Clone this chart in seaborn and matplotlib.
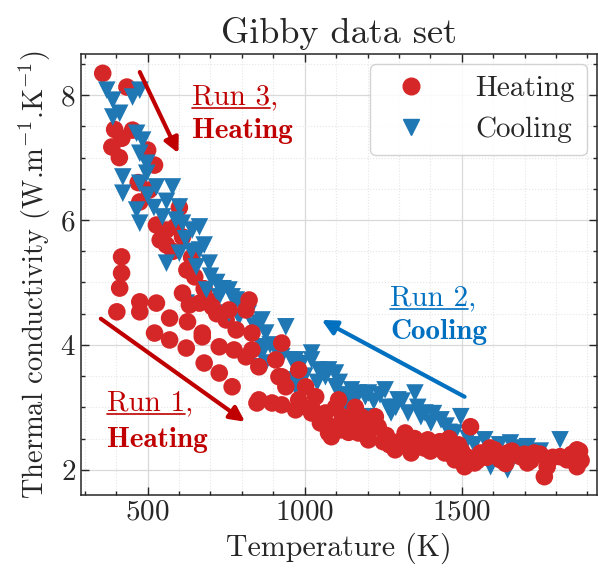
import numpy as np
import pandas as pd
import matplotlib
matplotlib.use('Agg')
import matplotlib.pyplot as plt
import seaborn as sns
from matplotlib.lines import Line2D

# Run 3 (heating, upper branch at low T)
run3_T = [357, 434, 386, 418, 452, 500, 522, 475, 528, 560, 601, 611, 395, 410, 470,
          505, 540, 580, 625, 650, 680, 560, 590, 640, 700, 720, 750]
run3_k = [8.35, 8.13, 7.17, 7.31, 7.44, 7.12, 6.88, 6.29, 5.92, 5.84, 6.20, 5.73, 7.45, 7.00, 6.60,
          6.48, 5.68, 5.50, 5.20, 5.09, 4.90, 5.60, 5.90, 5.40, 4.70, 4.50, 4.40]

# Run 2 (cooling)
run2_T = [370, 389, 411, 452, 475, 389, 465, 475, 421, 421, 475, 465, 475, 528, 579, 601, 547,
          611, 642, 497, 497, 484,
          560, 623, 687, 601, 655, 728, 769, 759, 854, 864, 876, 940, 971, 1022, 971,
          665, 665, 696, 759, 782, 791, 864, 876, 864, 864, 927, 959, 1022, 971, 1044, 1066,
          1098, 1149, 1130, 1193, 1256, 1275,
          1076, 1098, 1139, 1171, 1203, 1266, 1351, 1329, 1383, 1434, 1478, 1497, 1478, 1573,
          1592, 1655, 1646, 1709, 1813, 1297, 1402, 1203,
          500, 520, 560, 590, 620, 640, 680, 700, 720, 740, 800, 820, 840, 890, 910, 990, 1000,
          1040, 1110, 1120, 1160, 1220, 1240, 1290, 1310, 1360, 1370, 1410, 1450, 1460, 1520,
          1540, 1600, 1620, 1680, 1700, 1750]
run2_k = [8.08, 7.92, 7.71, 7.97, 8.08, 7.65, 7.39, 7.07, 6.69, 6.43, 6.59, 6.16, 5.95, 6.53, 6.53, 6.21, 6.05,
          5.95, 5.84, 6.75, 6.91, 7.28,
          5.31, 4.67, 4.88, 5.47, 5.25, 4.77, 4.77, 4.51, 4.35, 3.97, 3.71, 4.29, 3.76, 3.76, 3.44,
          5.89, 5.52, 5.31, 4.88, 4.72, 4.45, 4.40, 4.19, 3.87, 3.65, 3.81, 3.76, 3.87, 3.33, 3.60, 3.49,
          3.33, 3.28, 3.07, 3.17, 3.28, 2.91,
          3.60, 3.55, 3.17, 3.23, 3.23, 3.00, 3.23, 2.91, 2.91, 2.80, 2.37, 2.85, 2.59, 2.48,
          2.05, 2.43, 2.00, 2.37, 2.48, 3.12, 2.75, 2.85,
          6.40, 6.20, 6.30, 6.00, 5.70, 5.50, 5.60, 5.10, 5.00, 4.90, 4.60, 4.50, 4.30, 4.00, 3.90, 3.70, 3.50,
          3.40, 3.40, 3.20, 3.10, 3.10, 3.20, 3.00, 3.10, 3.00, 2.85, 2.90, 2.70, 2.60, 2.50,
          2.40, 2.30, 2.40, 2.35, 2.30, 2.30]

# Run 1 (heating, lower branch and high T)
run1_T = [417, 417, 411, 402, 475, 475, 528, 570, 522, 570, 627, 623, 674, 680, 728, 769, 728,
          775, 813, 848, 896, 927, 971, 1022, 1076, 611, 633, 665, 854, 918, 940, 832, 782,
          674, 706, 759, 813, 832, 854, 927, 908, 927, 981, 1003, 1022, 1066, 1085, 981,
          1035, 1108, 1161, 1161, 1225, 1085, 823,
          1098, 1117, 1171, 1180, 1234, 1288, 1320, 1361, 1392, 1446, 1478, 1509, 1528, 1560,
          1604, 1646, 1687, 1731, 1772, 1763, 1813, 1867, 1867, 1835, 1709, 1623, 1541, 1339,
          1203, 1139, 1250, 1300, 1420, 1470, 1490,
          1050, 1120, 1140, 1190, 1210, 1260, 1270, 1310, 1350, 1380, 1400, 1430, 1460, 1500,
          1520, 1550, 1580, 1590, 1640, 1660, 1700, 1720, 1750, 1790, 1850, 1880, 1875]
run1_k = [5.41, 5.15, 4.91, 4.53, 4.69, 4.53, 4.67, 4.43, 4.19, 4.08, 4.37, 3.95, 4.13, 3.71, 3.55, 3.33, 3.97,
          3.92, 3.81, 3.07, 3.07, 3.04, 2.96, 2.91, 2.59, 4.83, 4.64, 4.67, 3.65, 3.49, 3.33, 3.92, 4.24,
          4.19, 4.61, 4.56, 4.56, 4.19, 3.12, 4.03, 3.76, 3.49, 3.12, 3.33, 3.00, 2.91, 2.69, 3.60,
          3.17, 3.12, 3.00, 2.69, 2.85, 2.53, 4.72,
          3.00, 2.64, 2.59, 2.85, 2.69, 2.32, 2.59, 2.37, 2.48, 2.27, 2.16, 2.05, 2.69, 2.27,
          2.32, 2.27, 2.21, 2.27, 2.05, 1.89, 2.21, 2.32, 2.05, 2.16, 2.11, 2.16, 2.11, 2.27,
          2.48, 2.80, 2.45, 2.45, 2.40, 2.30, 2.40,
          2.75, 2.85, 2.60, 2.70, 2.65, 2.55, 2.40, 2.45, 2.50, 2.35, 2.30, 2.45, 2.50, 2.30,
          2.20, 2.15, 2.20, 2.35, 2.10, 2.30, 2.25, 2.15, 2.25, 2.20, 2.25, 2.15, 2.30]

heat_color = '#d62728'
cool_color = '#1f77b4'
note_red = '#c00000'
note_blue = '#0070c0'

df = pd.concat([
    pd.DataFrame({'T': run3_T, 'k': run3_k, 'Process': 'Heating'}),
    pd.DataFrame({'T': run2_T, 'k': run2_k, 'Process': 'Cooling'}),
    pd.DataFrame({'T': run1_T, 'k': run1_k, 'Process': 'Heating'}),
], ignore_index=True)

sns.set_style('ticks')
plt.rcParams['font.family'] = ['cmr10']
plt.rcParams['mathtext.fontset'] = 'cm'
plt.rcParams['axes.formatter.use_mathtext'] = True
plt.rcParams['axes.unicode_minus'] = False

fig = plt.figure(figsize=(5.98, 5.74), dpi=100)
ax = fig.add_axes([0.135, 0.138, 0.863, 0.768])

sns.scatterplot(data=df, x='T', y='k', hue='Process', style='Process',
                hue_order=['Heating', 'Cooling'],
                palette={'Heating': heat_color, 'Cooling': cool_color},
                markers={'Heating': 'o', 'Cooling': 'v'},
                s=160, linewidth=0, alpha=1, legend=False, ax=ax, zorder=3)

ax.set_xlim(287, 1930)
ax.set_ylim(1.6, 8.66)
ax.set_xticks([500, 1000, 1500])
ax.set_yticks([2, 4, 6, 8])
ax.set_xticks(np.arange(300, 1901, 100), minor=True)
ax.set_yticks(np.arange(2, 8.51, 0.5), minor=True)
ax.grid(True, which='major', color='#d9d9d9', lw=0.9)
ax.grid(True, which='minor', color='#e6e6e6', lw=0.8, ls=':')
ax.tick_params(which='both', direction='in', top=True, right=True, labelsize=21, width=1)
ax.tick_params(which='major', length=6)
ax.tick_params(which='minor', length=3)
for sp in ax.spines.values():
    sp.set_linewidth(1.1)

ax.set_title('Gibby data set', fontsize=26, pad=8)
ax.set_xlabel('Temperature (K)', fontsize=21.5, labelpad=5)
ax.set_ylabel(r'Thermal conductivity (W.m$^{-1}$.K$^{-1}$)', fontsize=20.5, labelpad=5)

handles = [Line2D([], [], ls='', marker='o', color=heat_color, markersize=12),
           Line2D([], [], ls='', marker='v', color=cool_color, markersize=12)]
leg = ax.legend(handles, ['Heating', 'Cooling'], loc='upper right', fontsize=21,
                frameon=True, fancybox=True, framealpha=0.85, edgecolor='#cccccc',
                handletextpad=1.2, borderaxespad=0.35)
leg.set_zorder(5)

# arrows
arrow_kw = dict(arrowstyle='-|>', lw=3, mutation_scale=22, shrinkA=0, shrinkB=0)
ax.annotate('', xy=(598, 7.07), xytext=(475, 8.37),
            arrowprops=dict(color=note_red, **arrow_kw), zorder=4)
ax.annotate('', xy=(810, 2.77), xytext=(351, 4.42),
            arrowprops=dict(color=note_red, **arrow_kw), zorder=4)
ax.annotate('', xy=(1054, 4.40), xytext=(1509, 3.17),
            arrowprops=dict(color=note_blue, **arrow_kw), zorder=4)

notes = [(642, 7.97, 7.42, 'Run 3', 'Heating', note_red),
         (370, 3.07, 2.48, 'Run 1', 'Heating', note_red),
         (1272, 4.75, 4.21, 'Run 2', 'Cooling', note_blue)]
fig.canvas.draw()
renderer = fig.canvas.get_renderer()
for x, y1, y2, run, label, col in notes:
    ax.text(x, y1, run + ',', color=col, fontsize=21, va='center', ha='left', zorder=6)
    ax.text(x, y2, label, color=col, fontsize=21, va='center', ha='left',
            family='cmb10', zorder=6)
    tmp = ax.text(x, y1, run, fontsize=21, va='center', ha='left')
    bb = tmp.get_window_extent(renderer)
    tmp.remove()
    inv = ax.transData.inverted()
    (x0, yy), (x1, _) = inv.transform([(bb.x0, bb.y0 + 2), (bb.x1, bb.y0 + 2)])
    ax.add_line(Line2D([x0, x1], [yy, yy], color=col, lw=1.2, zorder=6))

fig.savefig('out.png', dpi=100)
